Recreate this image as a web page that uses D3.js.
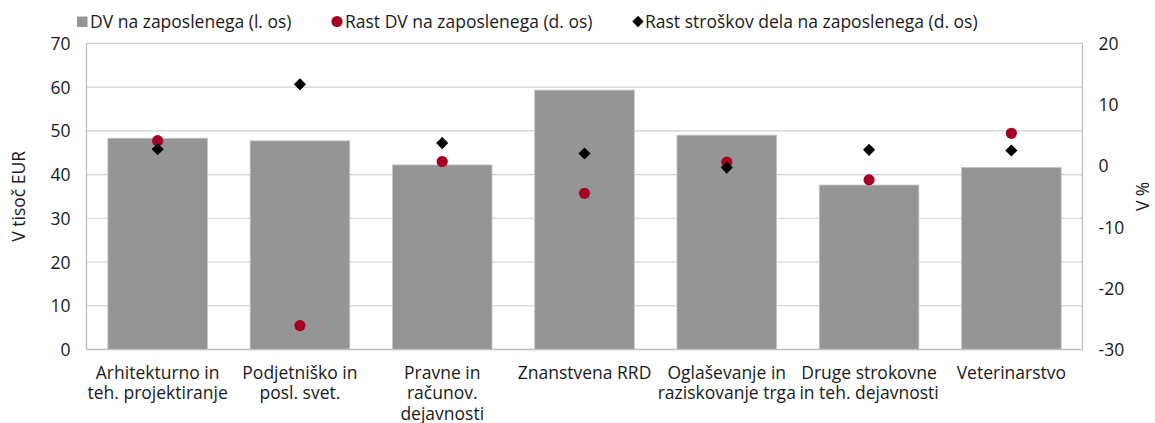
<!DOCTYPE html>
<html>
<head>
<meta charset="utf-8">
<script src="https://cdn.jsdelivr.net/npm/d3@7"></script>
<style>
  html, body { margin: 0; padding: 0; background: #fff; }
  svg text { font-family: "Open Sans", "Noto Sans", sans-serif; fill: #1a1a1a; }
</style>
</head>
<body>
<svg id="chart" width="1155" height="423"></svg>
<script>
// Dejavnosti (dve ali tri vrstice v oznaki)
const categories = [
  ["Arhitekturno in", "teh. projektiranje"],
  ["Podjetniško in", "posl. svet."],
  ["Pravne in", "računov.", "dejavnosti"],
  ["Znanstvena RRD"],
  ["Oglaševanje in", "raziskovanje trga"],
  ["Druge strokovne", "in teh. dejavnosti"],
  ["Veterinarstvo"]
];
// DV na zaposlenega, tisoč EUR (levo)
const dvPerEmployee = [48.3, 47.7, 42.2, 59.3, 49.0, 37.6, 41.6];
// Rast DV na zaposlenega, % (desno)
const dvGrowth = [4.1, -26.1, 0.7, -4.5, 0.6, -2.3, 5.3];
// Rast stroškov dela na zaposlenega, % (desno)
const laborCostGrowth = [2.7, 13.3, 3.7, 2.0, -0.3, 2.6, 2.5];

const leftTicks = [0, 10, 20, 30, 40, 50, 60, 70];
const rightTicks = [-30, -20, -10, 0, 10, 20];
const legendLabels = [
  "DV na zaposlenega (l. os)",
  "Rast DV na zaposlenega (d. os)",
  "Rast stroškov dela na zaposlenega (d. os)"
];

const FS = 17.5;
const svg = d3.select("#chart");
const margin = { left: 86.5, right: 1082.5, top: 43.3, bottom: 349.5 };
const barColor = "#959595";
const dotColor = "#a50021";
const gridColor = "#d0d0d0";

const x = d3.scaleBand()
  .domain(d3.range(categories.length))
  .range([margin.left, margin.right])
  .paddingInner(0.3)
  .paddingOuter(0.15);
const yL = d3.scaleLinear().domain([0, 70]).range([margin.bottom, margin.top]);
const yR = d3.scaleLinear().domain([-30, 20]).range([margin.bottom, margin.top]);

// mreža
svg.append("g")
  .selectAll("line")
  .data(leftTicks.filter(d => d > 0))
  .join("line")
  .attr("x1", margin.left).attr("x2", margin.right)
  .attr("y1", d => yL(d)).attr("y2", d => yL(d))
  .attr("stroke", gridColor).attr("stroke-width", 1.2);

// stolpci
svg.append("g")
  .selectAll("rect")
  .data(dvPerEmployee)
  .join("rect")
  .attr("x", (d, i) => x(i))
  .attr("width", x.bandwidth())
  .attr("y", d => yL(d))
  .attr("height", d => yL(0) - yL(d))
  .attr("fill", barColor)
  .attr("stroke", "#c4c4c4")
  .attr("stroke-width", 0.8);

// osi
const axisStroke = "#bdbdbd";
svg.append("line")
  .attr("x1", margin.left).attr("x2", margin.left)
  .attr("y1", margin.top).attr("y2", margin.bottom)
  .attr("stroke", axisStroke).attr("stroke-width", 1.3);
svg.append("line")
  .attr("x1", margin.right).attr("x2", margin.right)
  .attr("y1", margin.top).attr("y2", margin.bottom)
  .attr("stroke", axisStroke).attr("stroke-width", 1.3);
svg.append("line")
  .attr("x1", margin.left).attr("x2", margin.right)
  .attr("y1", margin.bottom).attr("y2", margin.bottom)
  .attr("stroke", axisStroke).attr("stroke-width", 1.3);

const fmt = d => String(d); // navaden vezaj za negativne vrednosti

const leftAxis = svg.append("g")
  .attr("transform", `translate(${margin.left},0)`)
  .call(d3.axisLeft(yL).tickValues(leftTicks).tickFormat(fmt).tickSize(0).tickPadding(16));
leftAxis.select(".domain").remove();
leftAxis.selectAll("text").attr("font-size", FS).attr("dy", "0.35em");

const rightAxis = svg.append("g")
  .attr("transform", `translate(${margin.right},0)`)
  .call(d3.axisRight(yR).tickValues(rightTicks).tickFormat(fmt).tickSize(0).tickPadding(16));
rightAxis.select(".domain").remove();
rightAxis.selectAll("text").attr("font-size", FS).attr("dy", "0.35em");

// oznake kategorij
const xl = svg.append("g");
categories.forEach((lines, i) => {
  const t = xl.append("text")
    .attr("text-anchor", "middle")
    .attr("font-size", FS)
    .attr("x", x(i) + x.bandwidth() / 2)
    .attr("y", 378.5);
  lines.forEach((ln, j) => {
    t.append("tspan")
      .attr("x", x(i) + x.bandwidth() / 2)
      .attr("dy", j === 0 ? 0 : 20.5)
      .text(ln);
  });
});

// naslova osi
svg.append("text")
  .attr("transform", `translate(25,${(margin.top + margin.bottom) / 2}) rotate(-90)`)
  .attr("text-anchor", "middle")
  .attr("font-size", FS)
  .text("V tisoč EUR");
svg.append("text")
  .attr("transform", `translate(1149,${(margin.top + margin.bottom) / 2}) rotate(-90)`)
  .attr("text-anchor", "middle")
  .attr("font-size", FS)
  .text("V %");

// točke
const cx = i => x(i) + x.bandwidth() / 2;

svg.append("g")
  .selectAll("circle")
  .data(dvGrowth)
  .join("circle")
  .attr("cx", (d, i) => cx(i))
  .attr("cy", d => yR(d))
  .attr("r", 5.6)
  .attr("fill", dotColor);

svg.append("g")
  .selectAll("rect")
  .data(laborCostGrowth)
  .join("rect")
  .attr("x", -4.3).attr("y", -4.3)
  .attr("width", 8.6).attr("height", 8.6)
  .attr("transform", (d, i) => `translate(${cx(i)},${yR(d)}) rotate(45)`)
  .attr("fill", "#000");

// legenda
const lg = svg.append("g");
lg.append("rect").attr("x", 77).attr("y", 16.5).attr("width", 10.5).attr("height", 10.5).attr("fill", barColor);
lg.append("text").attr("x", 90).attr("y", 27.5).attr("font-size", FS).text(legendLabels[0]);
lg.append("circle").attr("cx", 337).attr("cy", 21.5).attr("r", 5.6).attr("fill", dotColor);
lg.append("text").attr("x", 345).attr("y", 27.5).attr("font-size", FS).text(legendLabels[1]);
lg.append("rect").attr("x", -4).attr("y", -4).attr("width", 8).attr("height", 8)
  .attr("transform", "translate(638,21.5) rotate(45)").attr("fill", "#000");
lg.append("text").attr("x", 645).attr("y", 27.5).attr("font-size", FS).text(legendLabels[2]);
</script>
</body>
</html>
